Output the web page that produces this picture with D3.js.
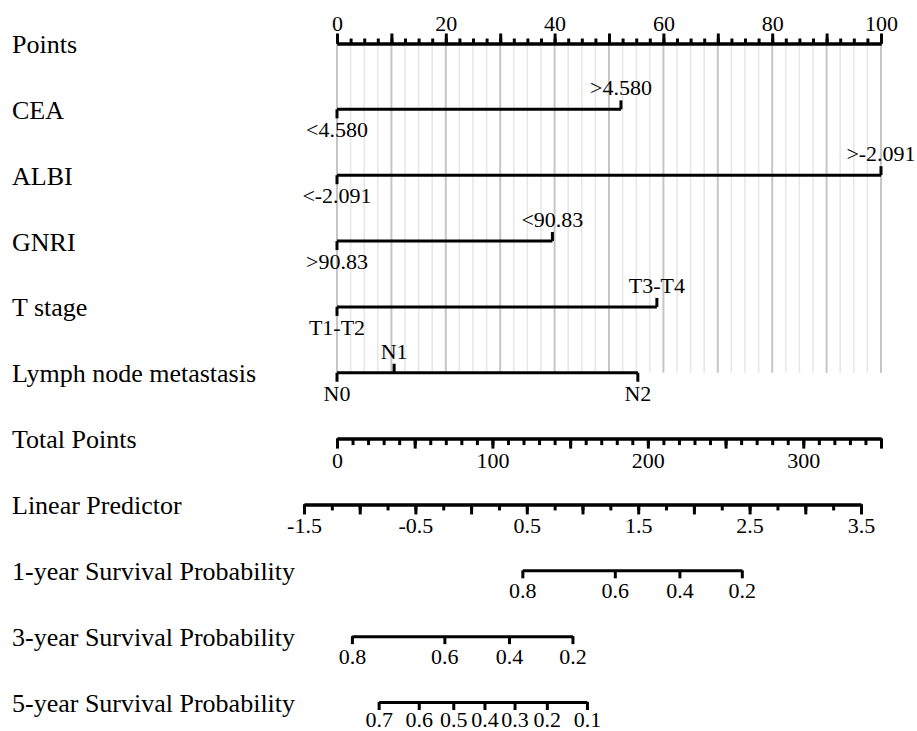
<!DOCTYPE html>
<html>
<head>
<meta charset="utf-8">
<script src="https://cdn.jsdelivr.net/npm/d3@7"></script>
<style>
body { margin: 0; background: #fff; }
svg { display: block; font-family: "Liberation Serif", "Times New Roman", serif; }
</style>
</head>
<body>
<svg width="917" height="731"></svg>
<script>
// Row names, top to bottom
const rowNames = ["Points", "CEA", "ALBI", "GNRI", "T stage", "Lymph node metastasis",
    "Total Points", "Linear Predictor", "1-year Survival Probability",
    "3-year Survival Probability", "5-year Survival Probability"];

// Points scale
const pointLabels = [0, 20, 40, 60, 80, 100];

// Predictors: level labels and their points
const varLevels = [["<4.580", ">4.580"], ["<-2.091", ">-2.091"], [">90.83", "<90.83"],
    ["T1-T2", "T3-T4"], ["N0", "N1", "N2"]];
const varPoints = [[0, 52.2], [0, 100], [0, 39.6], [0, 58.8], [0, 10.5, 55.3]];

// Total points and linear predictor
const totalLabels = [0, 100, 200, 300];
const totalMax = 350;
const lpLabels = [-1.5, -0.5, 0.5, 1.5, 2.5, 3.5];

// Survival probabilities and the linear predictor value each sits at
const surv1 = [0.8, 0.6, 0.4, 0.2];
const surv1LP = [0.46, 1.29, 1.87, 2.43];
const surv3 = [0.8, 0.6, 0.4, 0.2];
const surv3LP = [-1.07, -0.24, 0.34, 0.91];
const surv5 = [0.7, 0.6, 0.5, 0.4, 0.3, 0.2, 0.1];
const surv5LP = [-0.83, -0.47, -0.16, 0.12, 0.39, 0.68, 1.04];

const svg = d3.select("svg");
const rowY = i => 43.5 + i * 65.85;
const lw = 3;

const xPts = d3.scaleLinear([0, 100], [337, 881]);
const xTot = d3.scaleLinear([0, totalMax], [337, 881]);
const xLP = d3.scaleLinear([-1.5, 3.5], [304, 861]);

// grid lines behind predictor rows
const gridVals = d3.range(0, 100.01, 2.5);
svg.append("g").selectAll("line")
    .data(gridVals)
    .join("line")
    .attr("x1", d => xPts(d)).attr("x2", d => xPts(d))
    .attr("y1", rowY(0)).attr("y2", rowY(5))
    .attr("stroke", d => d % 10 === 0 ? "#c6c6c6" : "#e6e6e6")
    .attr("stroke-width", d => d % 10 === 0 ? 2 : 1.5);

// row names
svg.append("g").selectAll("text")
    .data(rowNames)
    .join("text")
    .attr("x", 12)
    .attr("y", (d, i) => rowY(i) + 9.5)
    .attr("font-size", 26)
    .text(d => d);

function styleAxis(g, labelY) {
    g.attr("font-family", null).attr("font-size", 22);
    g.select(".domain").attr("stroke", "#000").attr("stroke-width", lw);
    g.selectAll(".tick line").attr("stroke", "#000").attr("stroke-width", lw);
    g.selectAll(".tick text").attr("fill", "#000").attr("y", labelY).attr("dy", 0);
}

// Points axis
const gPts = svg.append("g").attr("transform", `translate(0,${rowY(0)})`);
gPts.append("g")
    .call(d3.axisTop(xPts).tickValues(d3.range(0, 100.01, 2.5)).tickSize(5).tickSizeOuter(0).tickFormat(""))
    .call(g => styleAxis(g, -13));
gPts.append("g")
    .call(d3.axisTop(xPts).tickValues(d3.range(0, 101, 10)).tickSize(10).tickSizeOuter(0)
        .tickFormat(d => pointLabels.includes(d) ? d : ""))
    .call(g => styleAxis(g, -13));

// predictor rows
varPoints.forEach((pts, i) => {
    const y = rowY(i + 1);
    const g = svg.append("g");
    g.append("line")
        .attr("x1", xPts(d3.min(pts))).attr("x2", xPts(d3.max(pts)))
        .attr("y1", y).attr("y2", y)
        .attr("stroke", "#000").attr("stroke-width", lw);
    const lev = g.selectAll("g.level")
        .data(pts.map((p, k) => ({ p, k, label: varLevels[i][k] })))
        .join("g")
        .attr("class", "level");
    lev.append("line")
        .attr("x1", d => xPts(d.p)).attr("x2", d => xPts(d.p))
        .attr("y1", y).attr("y2", d => d.k % 2 === 0 ? y + 9 : y - 9)
        .attr("stroke", "#000").attr("stroke-width", lw);
    lev.append("text")
        .attr("x", d => xPts(d.p))
        .attr("y", d => d.k % 2 === 0 ? y + 28 : y - 14)
        .attr("text-anchor", "middle")
        .attr("font-size", 22)
        .text(d => d.label);
});

// Total points axis
const gTot = svg.append("g").attr("transform", `translate(0,${rowY(6)})`);
gTot.append("g")
    .call(d3.axisBottom(xTot).tickValues(d3.range(0, totalMax + 0.1, 10)).tickSize(6.5).tickSizeOuter(0).tickFormat(""))
    .call(g => styleAxis(g, 29));
gTot.append("g")
    .call(d3.axisBottom(xTot).tickValues(d3.range(0, totalMax + 0.1, 50)).tickSize(10).tickSizeOuter(0)
        .tickFormat(d => totalLabels.includes(d) ? d : ""))
    .call(g => styleAxis(g, 29));

// Linear predictor axis
const gLP = svg.append("g").attr("transform", `translate(0,${rowY(7)})`);
gLP.append("g")
    .call(d3.axisBottom(xLP).tickValues(d3.range(-1.5, 3.51, 0.25)).tickSize(6).tickSizeOuter(0).tickFormat(""))
    .call(g => styleAxis(g, 29));
gLP.append("g")
    .call(d3.axisBottom(xLP).tickValues(d3.range(-1.5, 3.51, 0.5)).tickSize(10).tickSizeOuter(0)
        .tickFormat(d => lpLabels.some(v => Math.abs(v - d) < 1e-9) ? String(+d.toFixed(1)) : ""))
    .call(g => styleAxis(g, 29));

// survival axes
function survAxis(row, probs, lps, labelY) {
    const ext = d3.extent(lps);
    const s = d3.scaleLinear().domain(ext).range(ext.map(xLP));
    svg.append("g")
        .attr("transform", `translate(0,${rowY(row)})`)
        .call(d3.axisBottom(s).tickValues(lps).tickSize(8).tickSizeOuter(0)
            .tickFormat(d => String(probs[lps.indexOf(d)])))
        .call(g => styleAxis(g, labelY));
}
survAxis(8, surv1, surv1LP, 28);
survAxis(9, surv3, surv3LP, 28);
survAxis(10, surv5, surv5LP, 25);
</script>
</body>
</html>
